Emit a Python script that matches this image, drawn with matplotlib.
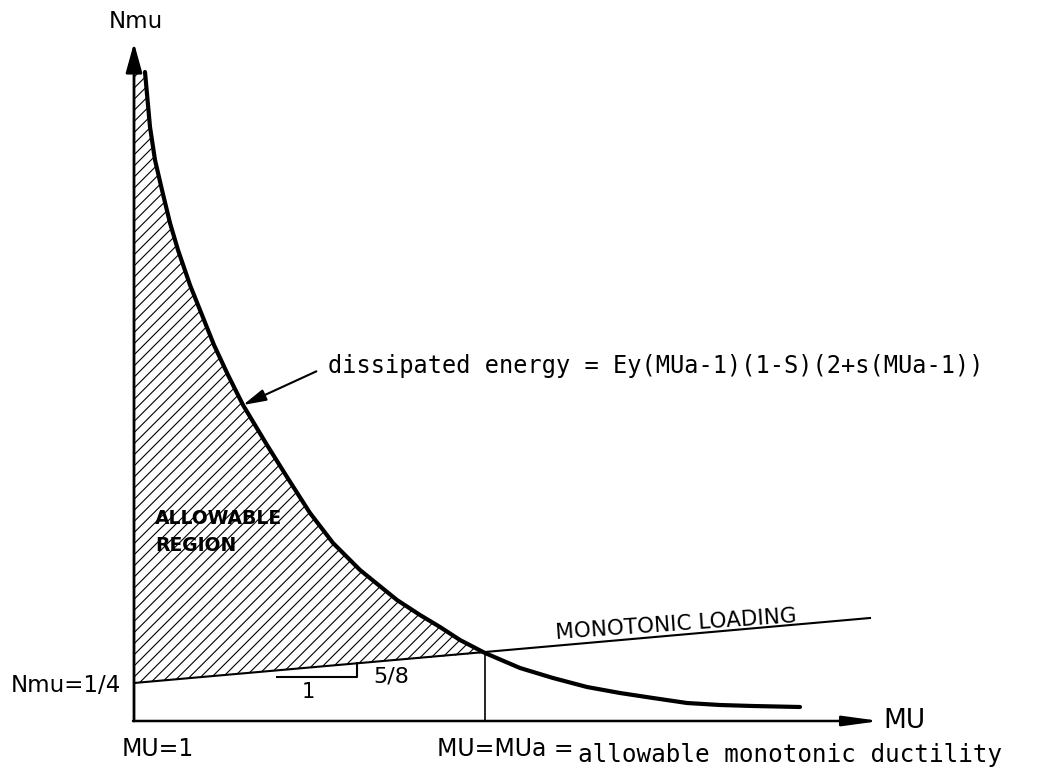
import matplotlib.pyplot as plt
import matplotlib as mpl

mpl.rcParams['hatch.linewidth'] = 0.8

# dissipated energy curve (Nmu vs MU), schematic units
curve_mu = [0.11, 0.16, 0.21, 0.28, 0.36, 0.44, 0.56, 0.68, 0.80, 0.94,
            1.09, 1.33, 1.53, 1.76, 1.99, 2.26, 2.63, 2.86, 3.06, 3.26,
            3.51, 3.86, 4.19, 4.53, 4.86, 5.19, 5.53, 5.86, 6.19, 6.66]
curve_n = [6.49, 5.94, 5.61, 5.31, 4.98, 4.71, 4.36, 4.06, 3.76, 3.46,
           3.16, 2.76, 2.44, 2.08, 1.78, 1.51, 1.21, 1.06, 0.94, 0.81,
           0.68, 0.53, 0.43, 0.34, 0.28, 0.23, 0.18, 0.16, 0.15, 0.14]

# monotonic loading line
mono_mu = [0.0, 7.36]
mono_n = [0.38, 1.03]

# allowable monotonic ductility
mu_a = 3.51
n_a = 0.68

# slope triangle
tri_mu = [1.43, 2.23, 2.23]
tri_n = [0.44, 0.44, 0.577]

fig = plt.figure(figsize=(10.41, 7.73), dpi=100)
ax = fig.add_axes([0, 0, 1, 1])
ax.set_xlim(-1.34, 9.07)
ax.set_ylim(-0.52, 7.21)
ax.axis('off')

# hatched allowable region
idx = curve_mu.index(mu_a)
poly_x = [0.0] + curve_mu[:idx + 1] + [0.0]
poly_y = [curve_n[0]] + curve_n[:idx + 1] + [mono_n[0]]
ax.fill(poly_x, poly_y, facecolor='none', edgecolor='black', hatch='///', linewidth=0)

# axes with arrows
ax.annotate('', xy=(0, 6.78), xytext=(0, 0),
            arrowprops=dict(arrowstyle='-|>,head_length=0.9,head_width=0.25',
                            mutation_scale=20, lw=2, color='black',
                            shrinkA=0, shrinkB=0))
ax.annotate('', xy=(7.46, 0), xytext=(-0.01, 0),
            arrowprops=dict(arrowstyle='-|>,head_length=1.1,head_width=0.15',
                            mutation_scale=20, lw=1.8, color='black',
                            shrinkA=0, shrinkB=0))

ax.plot(curve_mu, curve_n, color='black', lw=3, solid_capstyle='round',
        solid_joinstyle='round')
ax.plot(mono_mu, mono_n, color='black', lw=1.5)
ax.plot([mu_a, mu_a], [0, n_a], color='black', lw=1.2)
ax.plot(tri_mu, tri_n, color='black', lw=1.5)

# labels
ax.text(0.02, 6.99, 'Nmu', fontsize=16.5, ha='center', va='center')
ax.text(7.49, 0.0, 'MU', fontsize=19, ha='left', va='center')
ax.text(-0.68, 0.36, 'Nmu=1/4', fontsize=16.5, ha='center', va='center')
ax.text(0.24, -0.28, 'MU=1', fontsize=17, ha='center', va='center')
ax.text(3.03, -0.28, 'MU=MUa =', fontsize=17, ha='left', va='center')
ax.text(4.44, -0.34, 'allowable monotonic ductility', fontsize=17.5,
        family='DejaVu Sans Mono', ha='left', va='center')
ax.text(1.74, 0.29, '1', fontsize=15, ha='center', va='center')
ax.text(2.57, 0.44, '5/8', fontsize=16, ha='center', va='center')
ax.text(0.21, 1.89, 'ALLOWABLE\nREGION', fontsize=13.5, fontweight='bold',
        ha='left', va='center', linespacing=1.55)
ax.text(5.42, 0.9, 'MONOTONIC LOADING', fontsize=15.5, rotation=4,
        rotation_mode='anchor', ha='center', va='baseline')

ax.annotate('dissipated energy = Ey(MUa-1)(1-S)(2+s(MUa-1))',
            xy=(1.09, 3.16), xytext=(1.94, 3.55),
            fontsize=17, family='DejaVu Sans Mono', va='center', ha='left',
            arrowprops=dict(arrowstyle='-|>,head_length=0.7,head_width=0.18',
                            mutation_scale=20, lw=1.5, color='black',
                            relpos=(0, 0.5), shrinkA=7, shrinkB=0))

fig.savefig('out.png', dpi=100)
